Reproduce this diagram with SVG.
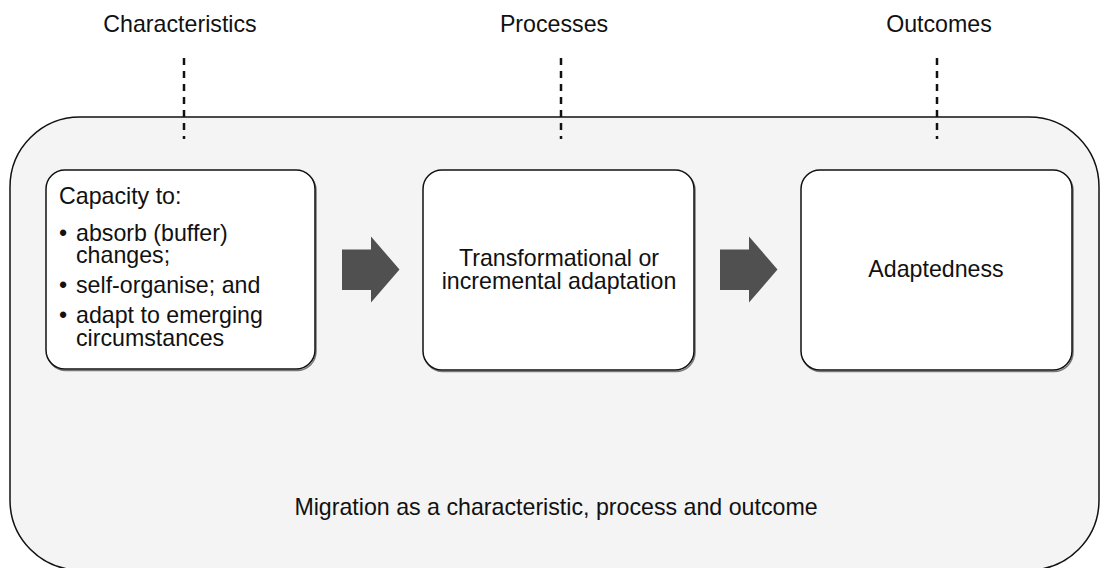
<svg xmlns="http://www.w3.org/2000/svg" width="1100" height="568" viewBox="0 0 1100 568">
  <style>
    .txt { font-family: "Liberation Sans", Arial, sans-serif; font-size: 23.2px; fill: #111; }
    .mid { text-anchor: middle; }
    .frame { fill: #f4f4f4; stroke: #111; stroke-width: 1.5; }
    .box { fill: #ffffff; stroke: #111; stroke-width: 1.5; }
    .boxshade { fill: none; stroke: #777; stroke-width: 1.5; }
    .tie { stroke: #111; stroke-width: 2.5; stroke-dasharray: 7 6; fill: none; }
    .flow { fill: #505050; }
  </style>

  <!-- outer frame -->
  <g id="frame">
    <rect class="frame" x="10" y="117" width="1089" height="453" rx="70" ry="70"/>
    <text class="txt mid" x="556" y="515">Migration as a characteristic, process and outcome</text>
  </g>

  <!-- column headings -->
  <g id="heading-characteristics">
    <text class="txt mid" x="180" y="32">Characteristics</text>
  </g>
  <g id="heading-processes">
    <text class="txt mid" x="554" y="32">Processes</text>
  </g>
  <g id="heading-outcomes">
    <text class="txt mid" x="939" y="32">Outcomes</text>
  </g>

  <!-- connectors: dashed ties and block arrows -->
  <g id="connectors">
    <line class="tie" x1="184" y1="58" x2="184" y2="139"/>
    <line class="tie" x1="561" y1="58" x2="561" y2="139"/>
    <line class="tie" x1="937" y1="58" x2="937" y2="139"/>
    <polygon class="flow" points="342,249.5 371,249.5 371,236.5 399.5,269.5 371,302.5 371,290 342,290"/>
    <polygon class="flow" points="720,249.5 749,249.5 749,236.5 777.5,269.5 749,302.5 749,290 720,290"/>
  </g>

  <!-- characteristics box -->
  <g id="node-capacity">
    <rect class="boxshade" x="47" y="171.5" width="269" height="199" rx="19"/>
    <rect class="box" x="46" y="170" width="269" height="199" rx="19"/>
    <text class="txt" x="59" y="204">Capacity to:</text>
    <text class="txt" x="59" y="241">•</text>
    <text class="txt" x="76" y="241">absorb (buffer)</text>
    <text class="txt" x="76" y="263">changes;</text>
    <text class="txt" x="59" y="293">•</text>
    <text class="txt" x="76" y="293">self-organise; and</text>
    <text class="txt" x="59" y="323">•</text>
    <text class="txt" x="76" y="323">adapt to emerging</text>
    <text class="txt" x="76" y="346">circumstances</text>
  </g>

  <!-- process box -->
  <g id="node-adaptation">
    <rect class="boxshade" x="424" y="171.5" width="271" height="200" rx="19"/>
    <rect class="box" x="423" y="170" width="271" height="200" rx="19"/>
    <text class="txt mid" x="559" y="266">Transformational or</text>
    <text class="txt mid" x="559" y="289">incremental adaptation</text>
  </g>

  <!-- outcome box -->
  <g id="node-adaptedness">
    <rect class="boxshade" x="802" y="171.5" width="271" height="200" rx="19"/>
    <rect class="box" x="801" y="170" width="271" height="200" rx="19"/>
    <text class="txt mid" x="936" y="277">Adaptedness</text>
  </g>
</svg>
